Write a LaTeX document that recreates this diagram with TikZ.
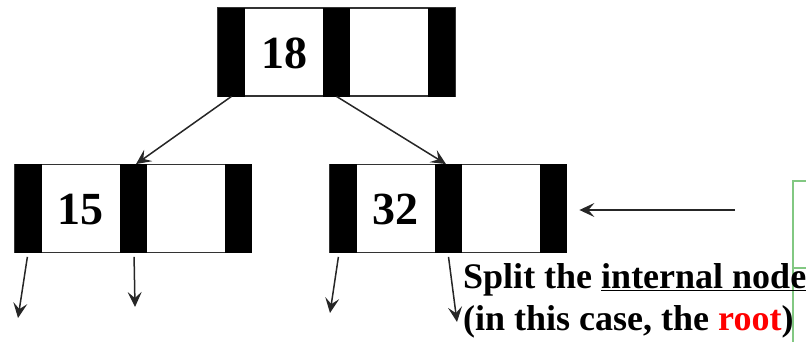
\documentclass[tikz,border=0pt]{standalone}
\usepackage{fontspec}
\setmainfont{Liberation Serif}
\usetikzlibrary{arrows.meta}
\definecolor{boxgreen}{RGB}{130,200,130}
\begin{document}
\begin{tikzpicture}[x=1pt,y=-1pt,
  keybox/.style={draw=black!80, line width=1.6pt, minimum width=237pt,
    minimum height=88pt, inner sep=0pt},
  keybar/.style={fill=black, draw=black, line width=0.8pt, minimum width=26pt,
    minimum height=88pt, inner sep=0pt},
  keytext/.style={font=\fontsize{46}{46}\selectfont\bfseries, inner sep=0pt},
  ptr/.style={draw=black!85, line width=1.5pt,
    -{Stealth[length=15pt,width=14pt,inset=6pt]}},
  note/.style={font=\fontsize{36}{42}\selectfont\bfseries, inner sep=0pt, anchor=base west}]
\useasboundingbox (0,0) rectangle (806,342);

% partly visible boxes at the right edge
\begin{scope}
  \clip (0,0) rectangle (806,342);
  \draw[boxgreen, line width=2.2pt] (793,181) rectangle (840,268);
  \draw[boxgreen, line width=2.2pt] (793,268) rectangle (840,400);
\end{scope}

% root node
\node[keybox] (root) at (336.5,52) {};
\node[keybar] (rootL) at ([xshift=-105pt]root.center) {};
\node[keybar] (rootM) at (root.center) {};
\node[keybar] (rootR) at ([xshift=105pt]root.center) {};
\node[keytext] (k18) at ([xshift=-52.5pt,yshift=-1pt]root.center) {18};

% left child
\node[keybox] (lc) at (133,208.5) {};
\node[keybar] (lcL) at ([xshift=-105pt]lc.center) {};
\node[keybar] (lcM) at (lc.center) {};
\node[keybar] (lcR) at ([xshift=105pt]lc.center) {};
\node[keytext] (k15) at ([xshift=-52.5pt,yshift=-1pt]lc.center) {15};

% right child
\node[keybox] (rc) at (448,208.5) {};
\node[keybar] (rcL) at ([xshift=-105pt]rc.center) {};
\node[keybar] (rcM) at (rc.center) {};
\node[keybar] (rcR) at ([xshift=105pt]rc.center) {};
\node[keytext] (k32) at ([xshift=-52.5pt,yshift=-1pt]rc.center) {32};

% pointers from the root
\draw[ptr] (rootL.south) -- ([xshift=3pt]lcM.north);
\draw[ptr] (rootM.south) -- ([xshift=-2pt]rcM.north);

% dangling child pointers
\coordinate (p1) at (18,318);
\coordinate (p2) at (135,307);
\coordinate (p3) at (330,313);
\coordinate (p4) at (457,322);
\draw[ptr, shorten <=4pt] (lcL.south) -- (p1);
\draw[ptr, shorten <=4pt] ([xshift=1pt]lcM.south) -- (p2);
\draw[ptr, shorten <=4pt] ([xshift=-4pt]rcL.south) -- (p3);
\draw[ptr, shorten <=4pt] (rcM.south) -- (p4);

% incoming arrow
\coordinate (src) at (735,210);
\draw[ptr, shorten >=13pt] (src) -- (src -| rcR.east);

% caption
\node[note] (line1) at (463,288) {Split the \underline{internal node}};
\node[note] (line2) at (463,330) {(in this case, the \textcolor{red}{root})};
\end{tikzpicture}
\end{document}
